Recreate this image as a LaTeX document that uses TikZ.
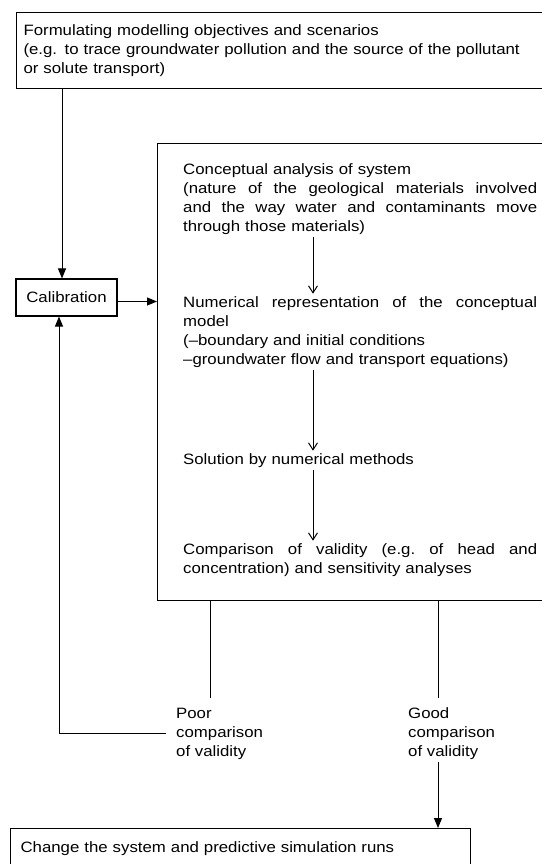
\documentclass[tikz,border=0pt]{standalone}
\usepackage{fontspec}
\usetikzlibrary{arrows.meta}
\newfontfamily\lab[FakeStretch=1.12]{Liberation Sans}
% a line spread over the full width of the text column (words separated by \hfill)
\newcommand\jline[1]{\leavevmode\hbox to 354pt{#1}}

\begin{document}
\begin{tikzpicture}[x=1pt,y=-1pt,
  every node/.style={font=\lab\fontsize{15}{19}\selectfont},
  frame/.style={draw, line width=1.1pt},
  para/.style={anchor=north west, inner sep=0pt, align=left, text width=354pt},
  label/.style={anchor=north west, inner sep=0pt, align=left},
  bigtip/.style={-{Triangle[length=10pt,width=8pt]}},
  smalltip/.style={-{Straight Barb[length=7pt,width=9pt]}},
  wire/.style={line width=1pt}]
\useasboundingbox (0,0) rectangle (541,864);

% boxes
\node[frame, anchor=north west, minimum width=530pt, minimum height=76pt,
      inner xsep=7pt, inner ysep=0pt, text width=516pt, align=left] (obj) at (16,12)
  {\strut Formulating modelling objectives and scenarios\\
   (e.g. to trace groundwater pollution and the source of the pollutant\\
   or solute transport)\strut};

\node[frame, minimum width=101pt, minimum height=37pt, inner sep=0pt] (calib) at (66.5,297.5) {Calibration};

\node[frame, anchor=north west, minimum width=389pt, minimum height=457pt, inner sep=0pt] (model) at (157,143) {};

\node[frame, anchor=north west, minimum width=460pt, minimum height=40pt,
      inner xsep=10pt, inner ysep=0pt, text width=440pt, align=left] (runs) at (10,828)
  {Change the system and predictive simulation runs};

% steps inside the model box
\node[para] (concept) at (183,160.7)
  {\strut Conceptual analysis of system\\
   \jline{(nature\hfill of\hfill the\hfill geological\hfill materials\hfill involved}\\
   \jline{and\hfill the\hfill way\hfill water\hfill and\hfill contaminants\hfill move}\\
   through those materials)\strut};

\node[para] (numrep) at (183,293.7)
  {\strut\jline{Numerical\hfill representation\hfill of\hfill the\hfill conceptual}\\
   model\\
   (–boundary and initial conditions\\
   –groundwater flow and transport equations)\strut};

\node[para] (solve) at (183,450.7) {\strut Solution by numerical methods\strut};

\node[para] (compare) at (183,540.7)
  {\strut\jline{Comparison\hfill of\hfill validity\hfill (e.g.\hfill of\hfill head\hfill and}\\
   concentration) and sensitivity analyses\strut};

% outcome labels
\node[label] (poor) at (176,704.7) {\strut Poor\\comparison\\of validity\strut};
\node[label] (good) at (408,704.7) {\strut Good\\comparison\\of validity\strut};

% connector columns
\coordinate (downx) at (62,0);
\coordinate (loopx) at (59,0);
\coordinate (ax) at (313,0);
\coordinate (poorx) at (210,0);
\coordinate (goodx) at (438,0);

% connectors
\draw[wire,bigtip] (obj.south -| downx) -- (calib.north -| downx);
\draw[wire,bigtip] ([yshift=-4pt]calib.east) -- ([yshift=-4pt]calib.east -| model.west);

\draw[wire,smalltip] (concept.south -| ax) -- (numrep.north -| ax);
\draw[wire,smalltip] (numrep.south -| ax) -- (solve.north -| ax);
\draw[wire,smalltip] (solve.south -| ax) -- (compare.north -| ax);

\draw[wire,shorten >=7pt] (model.south -| poorx) -- (poor.north -| poorx);
\draw[wire,shorten >=7pt] (model.south -| goodx) -- (good.north -| goodx);

\draw[wire,bigtip,shorten <=10pt] (poor.west) -| (calib.south -| loopx);
\draw[wire,bigtip] (good.south -| goodx) -- (runs.north -| goodx);
\end{tikzpicture}
\end{document}
